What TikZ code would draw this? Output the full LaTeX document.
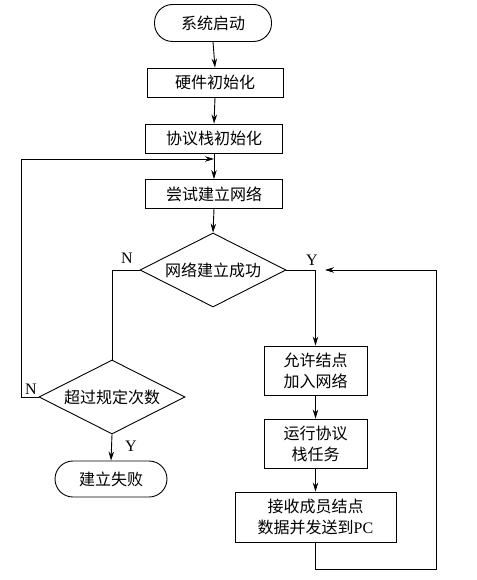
\documentclass[tikz,border=0pt]{standalone}
\usepackage{fontspec}
\setmainfont{Liberation Serif}
\newfontfamily\cjk{Noto Sans CJK SC}
\usetikzlibrary{shapes.geometric,arrows.meta}
\begin{document}
\begin{tikzpicture}[x=1pt,y=-1pt,
  every node/.style={font=\cjk\fontsize{16}{21}\selectfont},
  procbox/.style={draw, line width=0.9pt, rectangle, inner sep=0pt, align=center},
  term/.style={draw, line width=0.9pt, rectangle, rounded corners=18pt, inner sep=0pt},
  decide/.style={draw, line width=0.9pt, diamond, aspect=2, inner sep=0pt, minimum width=146pt, minimum height=74pt},
  flow/.style={line width=0.9pt, -{Stealth[length=9pt,width=5.5pt]}},
  plain/.style={line width=0.9pt},
  lbl/.style={font=\fontsize{16}{18}\selectfont}
]
\useasboundingbox (0,0) rectangle (476,580);
\node[term, minimum width=117pt, minimum height=37pt] (start) at (213,23) {系统启动};
\node[procbox, minimum width=136pt, minimum height=29pt] (hw) at (215,82.5) {硬件初始化};
\node[procbox, minimum width=137pt, minimum height=29pt] (stack) at (214,138.5) {协议栈初始化};
\node[procbox, minimum width=137pt, minimum height=29pt] (try) at (214,194) {尝试建立网络};
\node[decide] (d1) at (213,270) {网络建立成功};
\node[decide] (d2) at (112,397) {超过规定次数};
\node[term, minimum width=112pt, minimum height=36pt] (fail) at (111,479) {建立失败};
\node[procbox, minimum width=103pt, minimum height=49pt] (allow) at (315.5,370.5) {允许结点\\加入网络};
\node[procbox, minimum width=103pt, minimum height=49pt] (run) at (315.5,443.5) {运行协议\\栈任务};
\node[procbox, minimum width=161pt, minimum height=50pt] (recv) at (315.5,517) {接收成员结点\\数据并发送到{\fontspec{Liberation Serif}PC}};

\coordinate (j1) at (214,159);
\coordinate (j2) at (325,270);
\coordinate (l1) at (112,270);
\coordinate (l2) at (21,397);
\coordinate (l3) at (21,159);
\coordinate (r1) at (315.5,569);
\coordinate (r2) at (436,569);
\coordinate (r3) at (436,270);

\draw[flow] (start.south) -- (hw.north);
\draw[flow] (hw.south) -- (stack.north);
\draw[flow] (stack.south) -- (try.north);
\draw[flow] (try.south) -- (d1.north);
\draw[plain] (d1.west) -- (l1) -- (d2.north);
\draw[flow] (d2.west) -- (l2) -- (l3) -- (j1);
\draw[flow] (d2.south) -- (fail.north);
\draw[flow] (d1.east) -- (allow.north |- d1.east) -- (allow.north);
\draw[flow] (allow.south) -- (run.north);
\draw[flow] (run.south) -- (recv.north);
\draw[flow] (recv.south) -- (r1) -- (r2) -- (r3) -- (j2);

\node[lbl] (nA) at (127,258) {N};
\node[lbl] (nB) at (31,389) {N};
\node[lbl] (yA) at (312,260) {Y};
\node[lbl] (yB) at (131,446) {Y};
\end{tikzpicture}
\end{document}
